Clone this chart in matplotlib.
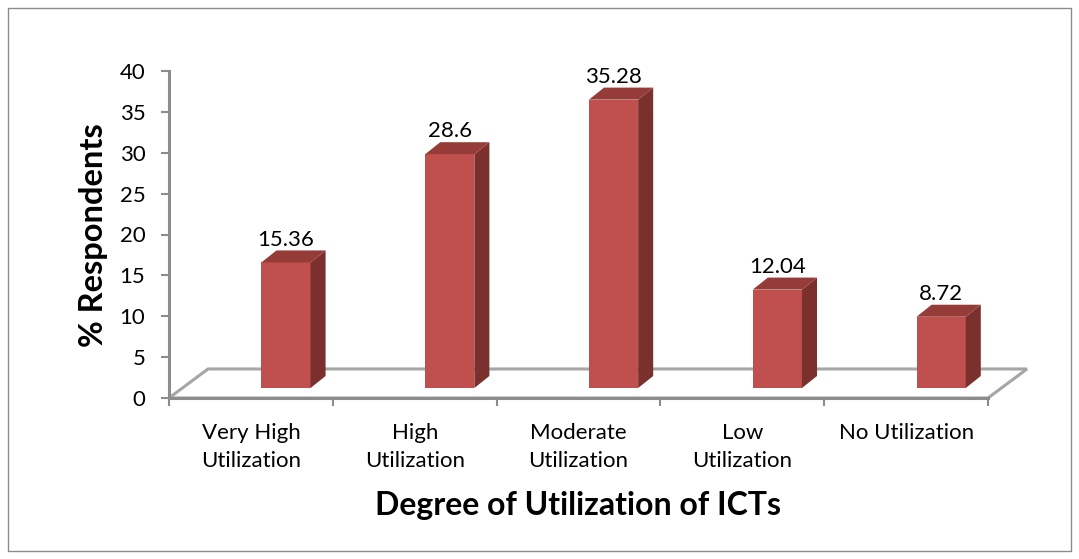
import matplotlib.pyplot as plt
from matplotlib.patches import Polygon, Rectangle

# data
categories = ["Very High\nUtilization", "High\nUtilization", "Moderate\nUtilization",
              "Low\nUtilization", "No Utilization"]
values = [15.36, 28.6, 35.28, 12.04, 8.72]
value_labels = ["15.36", "28.6", "35.28", "12.04", "8.72"]
y_ticks = [0, 5, 10, 15, 20, 25, 30, 35, 40]

plt.rcParams['font.family'] = ['Lato', 'DejaVu Sans']

W, H = 1079, 559
fig = plt.figure(figsize=(W / 100, H / 100), dpi=100)
# chart border
fig.patches.append(Rectangle((8 / W, 8 / H), 1063 / W, 543 / H, transform=fig.transFigure,
                             fill=False, edgecolor='#8c8c8c', linewidth=1))

ax = fig.add_axes([169 / W, (H - 398) / H, (988 - 169) / W, (398 - 71) / H])
n = len(values)
ax.set_xlim(0, n)
ax.set_ylim(0, 40)
for s in ax.spines.values():
    s.set_visible(False)

grey = '#8c8c8c'
# 3d offsets (data units)
fdx, fdy = 0.238, 3.55      # floor depth
bdx, bdy = 0.092, 1.47      # bar depth
base = 1.22

# floor
floor = Polygon([(0, 0), (n, 0), (n + fdx, fdy), (fdx, fdy)], closed=True,
                facecolor='white', edgecolor='#a6a6a6', linewidth=2.2, clip_on=False, zorder=1)
ax.add_patch(floor)

# axes lines
ax.plot([0, 0], [0, 40], color=grey, linewidth=2.2, clip_on=False, zorder=5)
ax.plot([0, n], [0, 0], color=grey, linewidth=2.2, clip_on=False, zorder=5)
ax.set_yticks(y_ticks)
ax.set_yticklabels([str(t) for t in y_ticks], fontsize=16)
ax.tick_params(axis='y', length=6, width=1.5, color=grey, pad=11)

ax.set_xticks(range(n + 1))
ax.set_xticklabels([])
ax.tick_params(axis='x', length=6, width=1.5, color=grey)
for i, c in enumerate(categories):
    ax.text(i + 0.5, -3.0, c, ha='center', va='top', fontsize=16, linespacing=1.5)

# bars
front_c, side_c, top_c = '#C0504D', '#7B302E', '#953B38'
for i, v in enumerate(values):
    l = i + 0.564
    r = i + 0.864
    b = base
    t = base + v
    ax.add_patch(Polygon([(l, b), (r, b), (r, t), (l, t)], closed=True,
                         facecolor=front_c, edgecolor='none', zorder=3, clip_on=False))
    ax.add_patch(Polygon([(r, b), (r + bdx, b + bdy), (r + bdx, t + bdy), (r, t)], closed=True,
                         facecolor=side_c, edgecolor='none', zorder=3, clip_on=False))
    ax.add_patch(Polygon([(l, t), (l + bdx, t + bdy), (r + bdx, t + bdy), (r, t)], closed=True,
                         facecolor=top_c, edgecolor='none', zorder=3, clip_on=False))
    ax.text((l + r) / 2, t + bdy + 0.6, value_labels[i], ha='center', va='baseline',
            fontsize=16, zorder=6)

fig.text(93 / W, 1 - 235 / H, "% Respondents", rotation=90, ha='center', va='center',
         fontsize=23.5, fontweight='bold')
fig.text(578 / W, 1 - 505 / H, "Degree of Utilization of ICTs", ha='center', va='center',
         fontsize=23, fontweight='bold')

fig.savefig('out.png', dpi=100)
